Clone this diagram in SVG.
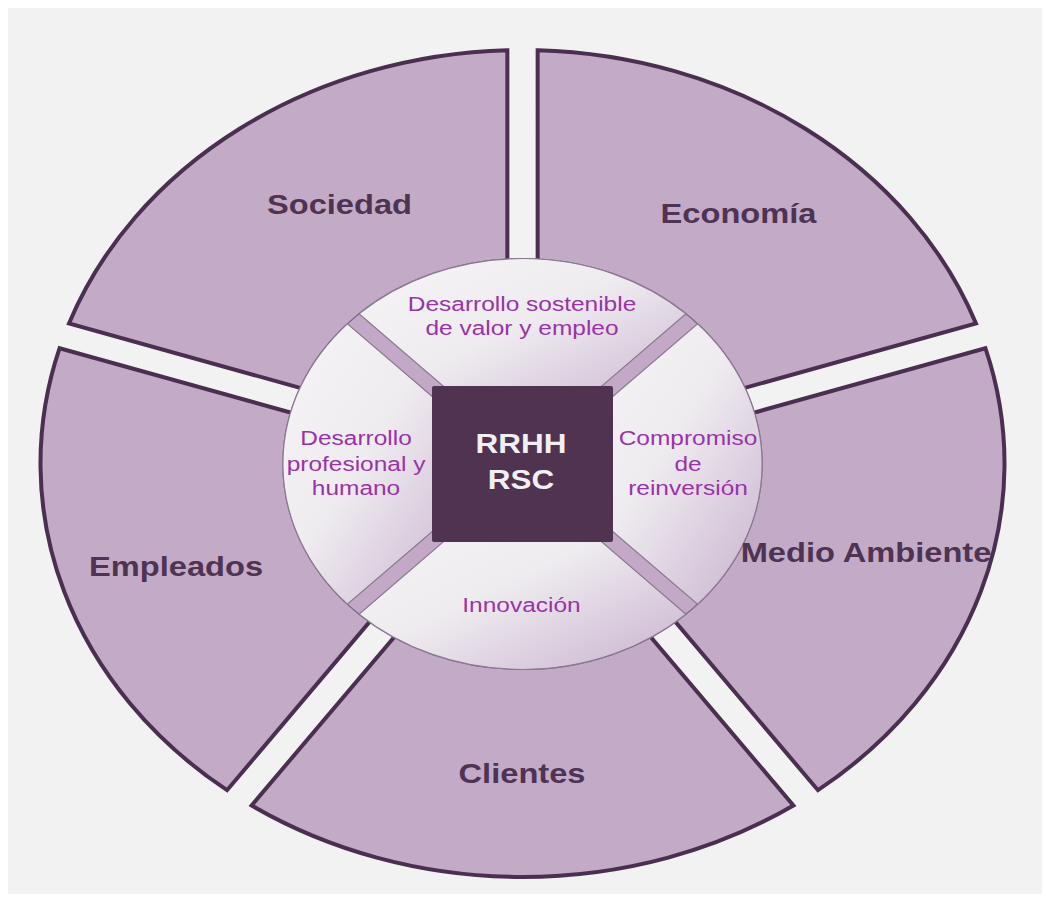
<svg xmlns="http://www.w3.org/2000/svg" width="1046" height="900" viewBox="0 0 1046 900">
  <defs>
    <linearGradient id="innerGrad" x1="0" y1="0" x2="1" y2="1">
      <stop offset="0" stop-color="#f5f4f5"/>
      <stop offset="0.45" stop-color="#efecf0"/>
      <stop offset="1" stop-color="#c8b2ce"/>
    </linearGradient>
    <style>
      .outer { fill: #c3aac7; stroke: #4b2f50; stroke-width: 4; stroke-linejoin: miter; }
      .inner { fill: url(#innerGrad); stroke: #8a7790; stroke-width: 1.2; }
      .olabel { font-family: "Liberation Sans", Arial, sans-serif; font-weight: bold; font-size: 28px; fill: #4e3352; text-anchor: middle; }
      .ilabel { font-family: "Liberation Sans", Arial, sans-serif; font-size: 21px; fill: #9a33a7; text-anchor: middle; }
      .clabel { font-family: "Liberation Sans", Arial, sans-serif; font-weight: bold; font-size: 27px; fill: #f2eff2; text-anchor: middle; }
    </style>
  </defs>

  <rect x="0" y="0" width="1046" height="900" fill="#ffffff"/>
  <rect x="8" y="8" width="1034" height="886" fill="#f2f2f2"/>

  <!-- Outer ring segments -->
  <g id="economia">
    <path class="outer" d="M650.9,414.1 L976.0,323.4 A482,413.5 0 0 0 537.65,50.2 L537.65,343.5 Z"/>
  </g>
  <g id="sociedad">
    <path class="outer" d="M507.35,343.5 L507.35,50.2 A482,413.5 0 0 0 69.0,323.4 L394.1,414.1 Z"/>
  </g>
  <g id="empleados">
    <path class="outer" d="M384.8,438.8 L59.6,348.2 A482,413.5 0 0 0 227.05,790.2 L428.0,552.9 Z"/>
  </g>
  <g id="clientes">
    <path class="outer" d="M452.5,568.2 L251.6,805.5 A482,413.5 0 0 0 793.4,805.5 L592.5,568.2 Z"/>
  </g>
  <g id="medio-ambiente">
    <path class="outer" d="M617.0,552.9 L817.95,790.2 A482,413.5 0 0 0 985.4,348.2 L660.2,438.8 Z"/>
  </g>

  <!-- Inner circle base -->
  <g id="inner-base">
    <ellipse cx="522.5" cy="464" rx="239.6" ry="205.5" fill="#c3a9c7" stroke="#7d6985" stroke-width="1.2"/>
  </g>

  <!-- Inner segments -->
  <g id="desarrollo-sostenible">
    <path class="inner" d="M566.2,416.6 L686.0,313.8 A239.6,205.5 0 0 0 359.0,313.8 L478.8,416.6 Z"/>
    <text class="ilabel" transform="translate(522,310.7) scale(1.1657,1)">Desarrollo sostenible</text>
    <text class="ilabel" transform="translate(522,335) scale(1.1657,1)">de valor y empleo</text>
  </g>
  <g id="desarrollo-profesional">
    <path class="inner" d="M467.3,426.5 L347.4,323.7 A239.6,205.5 0 0 0 347.4,604.3 L467.3,501.5 Z"/>
    <text class="ilabel" transform="translate(356,445) scale(1.1657,1)">Desarrollo</text>
    <text class="ilabel" transform="translate(356,470.5) scale(1.1657,1)">profesional y</text>
    <text class="ilabel" transform="translate(356,495) scale(1.1657,1)">humano</text>
  </g>
  <g id="innovacion">
    <path class="inner" d="M478.8,511.4 L359.0,614.2 A239.6,205.5 0 0 0 686.0,614.2 L566.2,511.4 Z"/>
    <text class="ilabel" transform="translate(521.5,611.7) scale(1.1657,1)">Innovación</text>
  </g>
  <g id="compromiso">
    <path class="inner" d="M577.7,501.5 L697.6,604.3 A239.6,205.5 0 0 0 697.6,323.7 L577.7,426.5 Z"/>
    <text class="ilabel" transform="translate(688,445) scale(1.1657,1)">Compromiso</text>
    <text class="ilabel" transform="translate(688,470.5) scale(1.1657,1)">de</text>
    <text class="ilabel" transform="translate(688,495) scale(1.1657,1)">reinversión</text>
  </g>

  <!-- Center -->
  <g id="rrhh-rsc">
    <rect x="432" y="386" width="181" height="156" rx="2" fill="#4f3351"/>
    <text class="clabel" transform="translate(521,453.3) scale(1.1657,1)">RRHH</text>
    <text class="clabel" transform="translate(521,489.3) scale(1.1657,1)">RSC</text>
  </g>

  <!-- Outer labels -->
  <g id="outer-labels">
    <text class="olabel" transform="translate(339.5,213.5) scale(1.1657,1)">Sociedad</text>
    <text class="olabel" transform="translate(738.5,223) scale(1.1657,1)">Economía</text>
    <text class="olabel" transform="translate(176,575.5) scale(1.1657,1)">Empleados</text>
    <text class="olabel" transform="translate(866,561.7) scale(1.1657,1)">Medio Ambiente</text>
    <text class="olabel" transform="translate(522,782.7) scale(1.1657,1)">Clientes</text>
  </g>
</svg>
